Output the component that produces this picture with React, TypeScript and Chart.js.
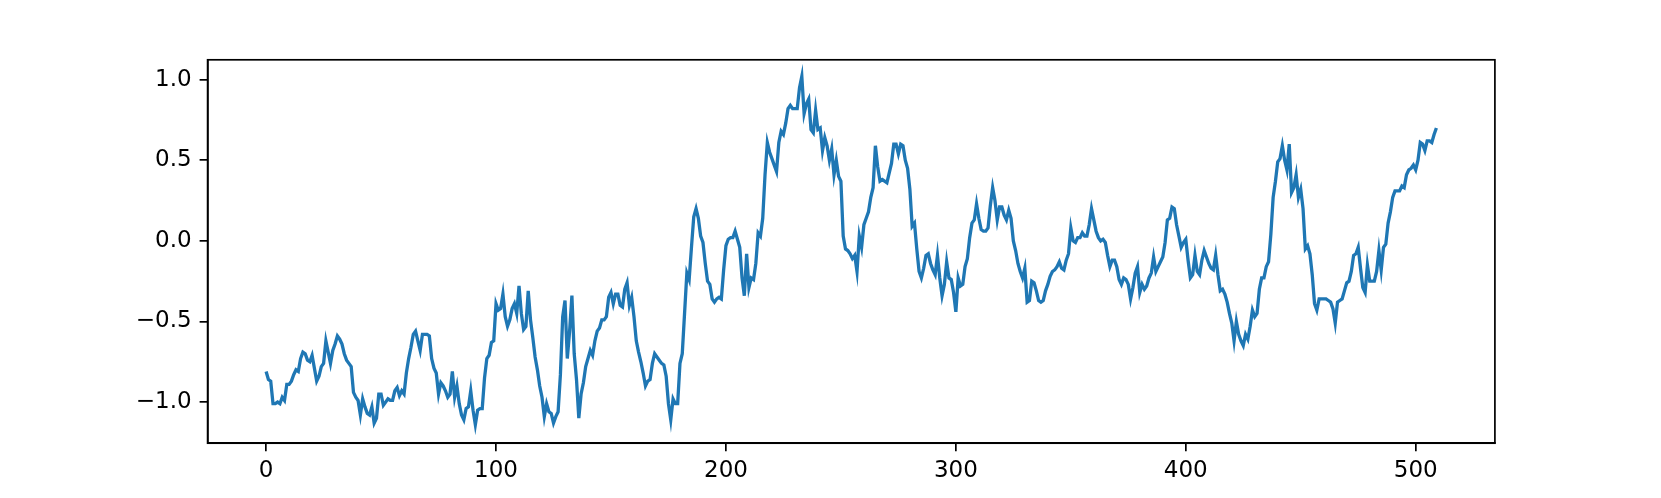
import { useEffect, useRef } from "react";
import { Chart, registerables } from "chart.js";

Chart.register(...registerables);

// Values, index 0..509
const seriesPart1 = [
  -0.81, -0.86, -0.87, -1.01, -1.01, -1.0, -1.01, -0.97, -0.99, -0.89,
  -0.89, -0.87, -0.83, -0.8, -0.81, -0.73, -0.69, -0.7, -0.74, -0.75,
  -0.71, -0.79, -0.87, -0.84, -0.78, -0.76, -0.62, -0.69, -0.76, -0.68,
  -0.64, -0.59, -0.61, -0.64, -0.7, -0.74, -0.76, -0.78, -0.94, -0.97,
  -0.99, -1.08, -0.98, -1.03, -1.07, -1.08, -1.03, -1.13, -1.1, -0.95,
  -0.95, -1.02, -1.0, -0.98, -0.99, -0.99, -0.93, -0.91, -0.96, -0.93,
  -0.95, -0.82, -0.73, -0.66, -0.58, -0.56, -0.62, -0.68, -0.58, -0.58,
  -0.58, -0.59, -0.73, -0.79, -0.82, -0.95, -0.88, -0.9, -0.93, -0.97,
  -0.95, -0.81, -0.97, -0.9, -1.01, -1.08, -1.11, -1.04, -1.03, -0.93,
  -1.05, -1.14, -1.05, -1.04, -1.04, -0.85, -0.73, -0.71, -0.63, -0.62,
];
const seriesPart2 = [
  -0.39, -0.43, -0.42, -0.33, -0.47, -0.53, -0.49, -0.42, -0.39, -0.45,
  -0.28, -0.45, -0.55, -0.53, -0.31, -0.49, -0.6, -0.72, -0.8, -0.9,
  -0.97, -1.09, -1.01, -1.06, -1.07, -1.13, -1.09, -1.06, -0.83, -0.47,
  -0.37, -0.73, -0.56, -0.34, -0.7, -0.86, -1.1, -0.95, -0.88, -0.78,
  -0.73, -0.68, -0.71, -0.62, -0.56, -0.54, -0.49, -0.49, -0.47, -0.35,
  -0.32, -0.39, -0.33, -0.33, -0.4, -0.41, -0.3, -0.26, -0.4, -0.35,
  -0.47, -0.62, -0.69, -0.75, -0.82, -0.9, -0.87, -0.86, -0.76, -0.7,
  -0.72, -0.74, -0.76, -0.77, -0.84, -1.01, -1.11, -0.98, -1.01, -1.01,
  -0.76, -0.7, -0.45, -0.2, -0.24, -0.04, 0.15, 0.2, 0.14, 0.03,
  -0.01, -0.14, -0.25, -0.27, -0.36, -0.38, -0.36, -0.35, -0.36, -0.18,
];
const seriesPart3 = [
  -0.03, 0.01, 0.02, 0.02, 0.06, 0.01, -0.04, -0.23, -0.34, -0.08,
  -0.29, -0.23, -0.24, -0.14, 0.05, 0.03, 0.14, 0.41, 0.61, 0.55,
  0.51, 0.47, 0.43, 0.61, 0.68, 0.66, 0.73, 0.82, 0.84, 0.82,
  0.82, 0.82, 0.95, 1.02, 0.79, 0.85, 0.88, 0.69, 0.67, 0.81,
  0.69, 0.7, 0.56, 0.64, 0.59, 0.5, 0.57, 0.41, 0.5, 0.4,
  0.37, 0.03, -0.05, -0.06, -0.08, -0.11, -0.09, -0.19, 0.03, -0.04,
  0.1, 0.14, 0.18, 0.27, 0.33, 0.59, 0.46, 0.37, 0.38, 0.37,
  0.36, 0.42, 0.48, 0.6, 0.6, 0.54, 0.6, 0.59, 0.5, 0.45,
  0.32, 0.09, 0.11, -0.05, -0.19, -0.23, -0.17, -0.09, -0.08, -0.14,
  -0.18, -0.21, -0.09, -0.23, -0.34, -0.27, -0.13, -0.23, -0.24, -0.32,
];
const seriesPart4 = [
  -0.44, -0.23, -0.28, -0.27, -0.16, -0.11, 0.02, 0.11, 0.13, 0.23,
  0.14, 0.07, 0.06, 0.06, 0.08, 0.22, 0.33, 0.25, 0.13, 0.21,
  0.21, 0.16, 0.13, 0.19, 0.14, 0.0, -0.06, -0.14, -0.19, -0.23,
  -0.17, -0.38, -0.37, -0.25, -0.26, -0.31, -0.37, -0.38, -0.37, -0.31,
  -0.27, -0.22, -0.19, -0.18, -0.16, -0.13, -0.17, -0.18, -0.12, -0.08,
  0.08, 0.0, -0.01, 0.02, 0.02, 0.05, 0.03, 0.03, 0.1, 0.2,
  0.13, 0.06, 0.02, 0.0, 0.01, -0.01, -0.09, -0.16, -0.12, -0.12,
  -0.16, -0.24, -0.27, -0.23, -0.24, -0.27, -0.36, -0.29, -0.2, -0.16,
  -0.32, -0.27, -0.3, -0.28, -0.23, -0.2, -0.1, -0.19, -0.16, -0.13,
  -0.1, -0.01, 0.13, 0.14, 0.21, 0.2, 0.1, 0.03, -0.04, -0.01,
];
const seriesPart5 = [
  0.01, -0.12, -0.23, -0.21, -0.09, -0.19, -0.21, -0.12, -0.06, -0.1,
  -0.14, -0.17, -0.18, -0.09, -0.21, -0.31, -0.3, -0.33, -0.38, -0.45,
  -0.51, -0.62, -0.5, -0.58, -0.62, -0.65, -0.58, -0.61, -0.53, -0.43,
  -0.47, -0.45, -0.3, -0.23, -0.23, -0.16, -0.13, 0.04, 0.27, 0.37,
  0.49, 0.51, 0.59, 0.5, 0.44, 0.6, 0.3, 0.33, 0.41, 0.27,
  0.32, 0.2, -0.05, -0.03, -0.08, -0.21, -0.39, -0.43, -0.36, -0.36,
  -0.36, -0.36, -0.37, -0.38, -0.42, -0.51, -0.38, -0.37, -0.36, -0.31,
  -0.26, -0.25, -0.19, -0.09, -0.08, -0.04, -0.17, -0.29, -0.32, -0.15,
  -0.25, -0.25, -0.25, -0.19, -0.06, -0.18, -0.04, -0.02, 0.11, 0.18,
  0.27, 0.31, 0.31, 0.31, 0.34, 0.33, 0.41, 0.44, 0.45, 0.47,
  0.44, 0.5, 0.61, 0.6, 0.56, 0.62, 0.62, 0.61, 0.66, 0.7,
];

const xTickValues = [0, 100, 200, 300, 400, 500];
const yTickValues = [-1.0, -0.5, 0.0, 0.5, 1.0];

const X_MIN = -25.45;
const X_MAX = 534.45;
const Y_MIN = -1.255;
const Y_MAX = 1.123;

const W = 1661;
const H = 498;
const AX_LEFT = 207.6;
const AX_RIGHT = 1494.9;
const AX_TOP = 59.8;
const AX_BOTTOM = 443.2;

const FONT = { family: "'DejaVu Sans', sans-serif", size: 23 };

export default function App() {
  const ref = useRef<HTMLCanvasElement>(null);

  useEffect(() => {
    const values = [
      ...seriesPart1,
      ...seriesPart2,
      ...seriesPart3,
      ...seriesPart4,
      ...seriesPart5,
    ];
    const points = values.map((y, i) => ({ x: i, y }));

    const frame = {
      id: "frame",
      afterDraw(chart: any) {
        const { ctx, chartArea } = chart;
        ctx.save();
        ctx.strokeStyle = "#000";
        ctx.lineWidth = 1.7;
        ctx.strokeRect(
          chartArea.left,
          chartArea.top,
          chartArea.right - chartArea.left,
          chartArea.bottom - chartArea.top
        );
        ctx.restore();
      },
    };

    const chart = new Chart(ref.current as HTMLCanvasElement, {
      type: "line",
      data: {
        datasets: [
          {
            data: points,
            borderColor: "#1f77b4",
            borderWidth: 3.3,
            pointRadius: 0,
            tension: 0,
            fill: false,
          },
        ],
      },
      options: {
        animation: false,
        responsive: false,
        devicePixelRatio: 1,
        layout: {
          padding: { left: 0, top: AX_TOP, right: W - AX_RIGHT, bottom: 0 },
        },
        plugins: {
          legend: { display: false },
          tooltip: { enabled: false },
        },
        scales: {
          x: {
            type: "linear",
            min: X_MIN,
            max: X_MAX,
            afterBuildTicks: (s: any) => {
              s.ticks = xTickValues.map((v) => ({ value: v }));
            },
            afterFit: (s: any) => {
              s.height = H - AX_BOTTOM;
            },
            grid: {
              drawOnChartArea: false,
              drawTicks: true,
              tickLength: 8,
              color: "#000",
              lineWidth: 1.7,
            },
            border: { display: true, color: "#000", width: 1.7 },
            ticks: {
              color: "#000",
              font: FONT,
              padding: 6,
              maxRotation: 0,
              autoSkip: false,
              callback: (v: any) => String(v),
            },
          },
          y: {
            type: "linear",
            min: Y_MIN,
            max: Y_MAX,
            afterBuildTicks: (s: any) => {
              s.ticks = yTickValues.map((v) => ({ value: v }));
            },
            afterFit: (s: any) => {
              s.width = AX_LEFT;
            },
            grid: {
              drawOnChartArea: false,
              drawTicks: true,
              tickLength: 8,
              color: "#000",
              lineWidth: 1.7,
            },
            border: { display: true, color: "#000", width: 1.7 },
            ticks: {
              color: "#000",
              font: FONT,
              padding: 8,
              autoSkip: false,
              callback: (v: any) => {
                const n = Number(v);
                const s = Math.abs(n).toFixed(1);
                return n < 0 ? "\u2212" + s : s;
              },
            },
          },
        },
      },
      plugins: [frame],
    });

    return () => chart.destroy();
  }, []);

  return (
    <div
      style={{
        position: "absolute",
        left: 0,
        top: 0,
        width: W,
        height: H,
        background: "#fff",
      }}
    >
      <canvas ref={ref} width={W} height={H} style={{ display: "block" }} />
    </div>
  );
}
